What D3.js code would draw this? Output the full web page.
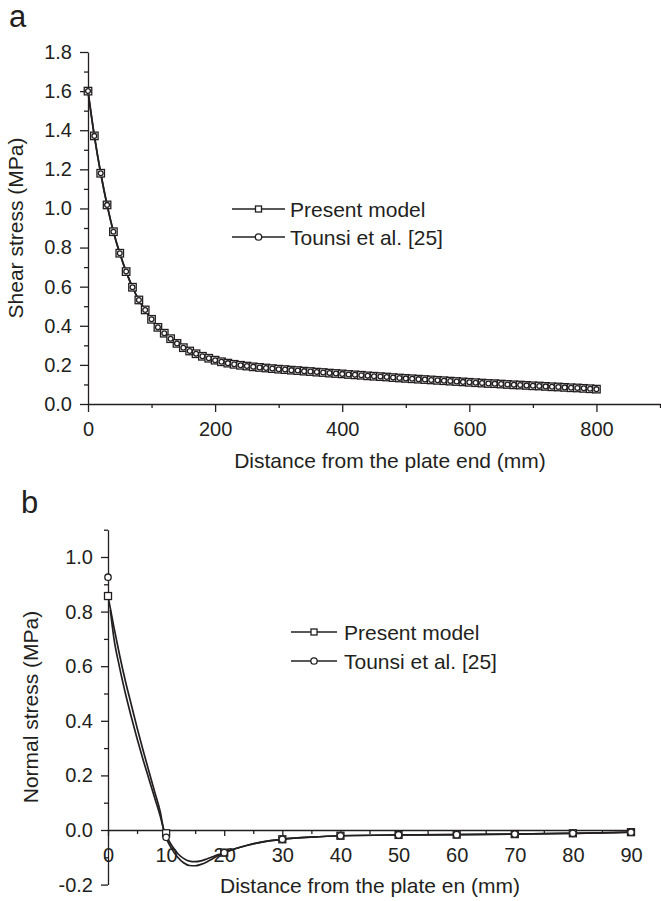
<!DOCTYPE html>
<html>
<head>
<meta charset="utf-8">
<title>Shear and normal stress along the plate</title>
<style>
  body { margin: 0; background: #fff; }
  svg { display: block; font-family: "Liberation Sans", Arial, sans-serif; }
  text { fill: #231f20; }
  .tick text { font-size: 20px; fill: #231f20; }
  .title { font-size: 21px; }
  .panel { font-size: 31px; }
  .legend text { font-size: 21px; }
  .domain, .tick line { stroke: #231f20; stroke-width: 1.3; }
  .curve { fill: none; stroke: #231f20; stroke-width: 1.7; }
  .mk { fill: #fff; stroke: #231f20; stroke-width: 1.3; }
</style>
</head>
<body>
<script src="https://d3js.org/d3.v7.min.js"></script>
<script>

// ---- panel a : shear stress, one marker every 10 mm ----
const shearX = d3.range(0, 801, 10);
const shearPresent = [
  1.600, 1.371, 1.180, 1.018, 0.881, 0.771, 0.677, 0.597, 0.532, 0.481,
  0.433, 0.392, 0.362, 0.334, 0.310, 0.288, 0.271, 0.257, 0.244, 0.234,
  0.224, 0.216, 0.209, 0.203, 0.198, 0.194, 0.190, 0.187, 0.184, 0.181,
  0.178, 0.176, 0.173, 0.171, 0.168, 0.166, 0.163, 0.161, 0.158, 0.156,
  0.154, 0.151, 0.149, 0.147, 0.144, 0.142, 0.140, 0.138, 0.135, 0.133,
  0.131, 0.129, 0.127, 0.125, 0.123, 0.121, 0.119, 0.117, 0.115, 0.113,
  0.111, 0.109, 0.107, 0.105, 0.104, 0.102, 0.100, 0.098, 0.097, 0.095,
  0.093, 0.092, 0.090, 0.088, 0.087, 0.085, 0.083, 0.082, 0.080, 0.078,
  0.076
];
// Tounsi et al. coincides with the present model in panel a
const shearTounsi = shearPresent;

const shearXTicks = [0, 200, 400, 600, 800];
const shearXMinor = [100, 300, 500, 700, 900];
const shearYTicks = [0, 0.2, 0.4, 0.6, 0.8, 1.0, 1.2, 1.4, 1.6, 1.8];
const shearYMinor = [0.1, 0.3, 0.5, 0.7, 0.9, 1.1, 1.3, 1.5, 1.7];

// ---- panel b : normal stress ----
const normalX = [0, 10, 20, 30, 40, 50, 60, 70, 80, 90];
const normalPresent = [0.857, -0.012, -0.083, -0.034, -0.021, -0.018, -0.017, -0.015, -0.012, -0.008];
const normalTounsi  = [0.926, -0.027, -0.083, -0.034, -0.021, -0.018, -0.017, -0.015, -0.012, -0.008];

// points
const normalPresentCurveX = [0, 1, 2, 3, 4, 5, 6, 7, 8, 9, 9.6, 10, 11, 12, 13, 14, 15, 16, 17, 18, 19, 20, 22, 24, 26, 28, 30, 35, 40, 50, 60, 70, 80, 90];
const normalPresentCurveY = [0.857, 0.745, 0.64, 0.545, 0.46, 0.375, 0.295, 0.218, 0.142, 0.066, 0.0, -0.02, -0.058, -0.086, -0.104, -0.114, -0.116, -0.113, -0.106, -0.098, -0.09, -0.083, -0.068, -0.056, -0.046, -0.039, -0.034, -0.026, -0.021, -0.018, -0.017, -0.015, -0.012, -0.008];
const normalTounsiCurveX = [0.4, 1, 2, 3, 4, 5, 6, 7, 8, 9, 9.6, 10, 11, 12, 13, 14, 15, 16, 17, 18, 19, 20, 22, 24, 26, 28, 30, 35, 40, 50, 60, 70, 80, 90];
const normalTounsiCurveY = [0.806, 0.705, 0.595, 0.5, 0.415, 0.335, 0.26, 0.19, 0.12, 0.05, 0.0, -0.027, -0.07, -0.1, -0.12, -0.13, -0.131, -0.126, -0.117, -0.105, -0.093, -0.083, -0.068, -0.056, -0.046, -0.039, -0.034, -0.026, -0.021, -0.018, -0.017, -0.015, -0.012, -0.008];

const normalXTicks = [0, 10, 20, 30, 40, 50, 60, 70, 80, 90];
const normalXMinor = [5, 15, 25, 35, 45, 55, 65, 75, 85];
const normalYTicks = [-0.2, 0, 0.2, 0.4, 0.6, 0.8, 1.0];
const normalYMinor = [-0.1, 0.1, 0.3, 0.5, 0.7, 0.9, 1.1];

const legendNames = ["Present model", "Tounsi et al. [25]"];

const fmt = d => d.toFixed(1);

const svg = d3.select("body").append("svg")
    .attr("width", 661)
    .attr("height", 901);

function axes(x, y, xt, xm, yt, ym, o) {
  const g = svg.append("g");
  g.append("g")
      .attr("transform", `translate(0,${y(0)})`)
      .call(d3.axisBottom(x).tickValues(xm).tickSize(o.xMinor).tickFormat("").tickSizeOuter(0))
      .call(s => s.select(".domain").remove());
  g.append("g")
      .attr("transform", `translate(0,${y(0)})`)
      .call(d3.axisBottom(x).tickValues(xt).tickSize(o.xMajor).tickPadding(o.xPad).tickSizeOuter(0));
  g.append("g")
      .attr("transform", `translate(${x(0)},0)`)
      .call(d3.axisLeft(y).tickValues(ym).tickSize(4).tickFormat("").tickSizeOuter(0))
      .call(s => s.select(".domain").remove());
  g.append("g")
      .attr("transform", `translate(${x(0)},0)`)
      .call(d3.axisLeft(y).tickValues(yt).tickSize(o.yMajor).tickPadding(8).tickFormat(fmt).tickSizeOuter(0));
  g.selectAll(".tick text").attr("font-family", null).attr("font-size", null);
}

function squares(data, x, y, size) {
  svg.append("g").selectAll("rect").data(data).join("rect")
      .attr("class", "mk")
      .attr("x", d => x(d[0]) - size / 2)
      .attr("y", d => y(d[1]) - size / 2)
      .attr("width", size).attr("height", size);
}

function circles(data, x, y, r) {
  svg.append("g").selectAll("circle").data(data).join("circle")
      .attr("class", "mk")
      .attr("cx", d => x(d[0]))
      .attr("cy", d => y(d[1]))
      .attr("r", r);
}

function legend(x0, x1, tx, rows) {
  const g = svg.append("g").attr("class", "legend");
  rows.forEach((ry, i) => {
    g.append("line").attr("x1", x0).attr("x2", x1).attr("y1", ry).attr("y2", ry)
        .attr("stroke", "#231f20").attr("stroke-width", 1.4);
    const cx = (x0 + x1) / 2;
    if (i === 0) {
      g.append("rect").attr("class", "mk").attr("x", cx - 3).attr("y", ry - 3).attr("width", 6).attr("height", 6);
    } else {
      g.append("circle").attr("class", "mk").attr("cx", cx).attr("cy", ry).attr("r", 3.2);
    }
    g.append("text").attr("x", tx).attr("y", ry).attr("dy", "0.36em").text(legendNames[i]);
  });
}

// ===== panel a =====
const xa = d3.scaleLinear().domain([0, 900]).range([88, 660]);
const ya = d3.scaleLinear().domain([0, 1.8]).range([404, 52]);

axes(xa, ya, shearXTicks, shearXMinor, shearYTicks, shearYMinor,
     {xMajor: 8, xMinor: 4, xPad: 10, yMajor: 8});

const lineA = d3.line().x(d => xa(d[0])).y(d => ya(d[1])).curve(d3.curveCatmullRom);
const presA = shearX.map((v, i) => [v, shearPresent[i]]);
const tounA = shearX.map((v, i) => [v, shearTounsi[i]]);
svg.append("path").attr("class", "curve").attr("d", lineA(tounA));
svg.append("path").attr("class", "curve").attr("d", lineA(presA));
squares(presA, xa, ya, 7.5);
circles(tounA, xa, ya, 2.4);

svg.append("text").attr("class", "title").attr("x", 390).attr("y", 468)
    .attr("text-anchor", "middle").text("Distance from the plate end (mm)");
svg.append("text").attr("class", "title").attr("text-anchor", "middle")
    .attr("transform", "translate(23,228) rotate(-90)").text("Shear stress (MPa)");
svg.append("text").attr("class", "panel").attr("x", 9).attr("y", 27).text("a");
legend(232, 285, 290, [209, 237]);

// ===== panel b =====
const xb = d3.scaleLinear().domain([0, 90]).range([108, 631]);
const yb = d3.scaleLinear().domain([-0.2, 1.1]).range([884.6, 529.7]);

axes(xb, yb, normalXTicks, normalXMinor, normalYTicks, normalYMinor,
     {xMajor: 6, xMinor: 4, xPad: 12, yMajor: 7});

const lineB = d3.line().x(d => xb(d[0])).y(d => yb(d[1])).curve(d3.curveMonotoneX);
const presCurve = normalPresentCurveX.map((v, i) => [v, normalPresentCurveY[i]]);
const tounCurve = normalTounsiCurveX.map((v, i) => [v, normalTounsiCurveY[i]]);
svg.append("path").attr("class", "curve").attr("d", lineB(tounCurve));
svg.append("path").attr("class", "curve").attr("d", lineB(presCurve));
squares(normalX.map((v, i) => [v, normalPresent[i]]), xb, yb, 7);
circles(normalX.map((v, i) => [v, normalTounsi[i]]), xb, yb, 3.2);

svg.append("text").attr("class", "title").attr("x", 370).attr("y", 893)
    .attr("text-anchor", "middle").text("Distance from the plate en (mm)");
svg.append("text").attr("class", "title").attr("text-anchor", "middle")
    .attr("transform", "translate(38,707) rotate(-90)").text("Normal stress (MPa)");
svg.append("text").attr("class", "panel").attr("x", 21).attr("y", 513).text("b");
legend(291, 337, 344, [632, 661]);

</script>
</body>
</html>
